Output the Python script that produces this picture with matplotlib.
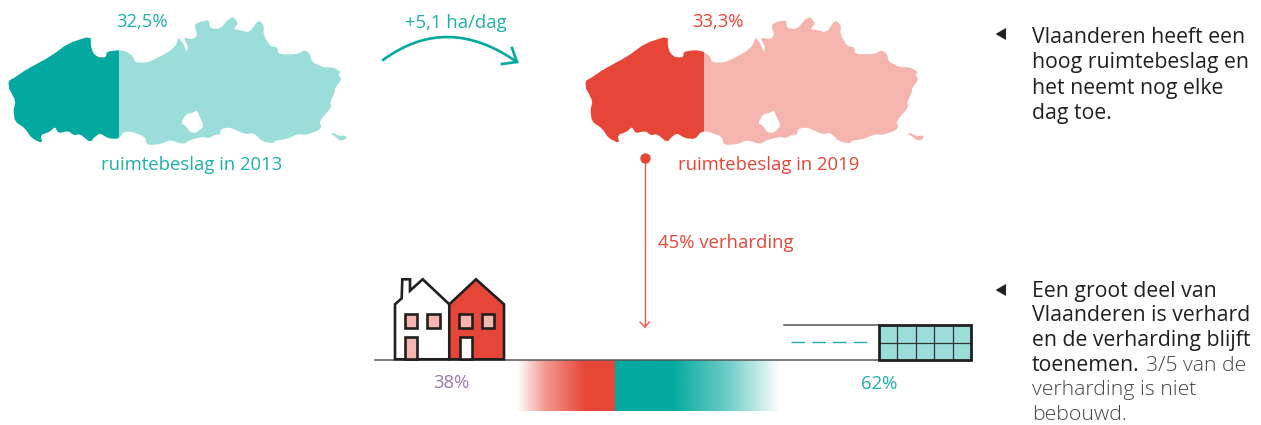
import numpy as np
import matplotlib
matplotlib.use('Agg')
import matplotlib.pyplot as plt
from matplotlib.colors import to_rgb
from matplotlib.patches import Polygon, Rectangle, PathPatch
from matplotlib.path import Path

plt.rcParams['font.family'] = ['Open Sans', 'DejaVu Sans']

# waarden
jaren = [2013, 2019]
ruimtebeslag = [32.5, 33.3]
toename = '+5,1'
verharding = 45
bebouwd = 38
niet_bebouwd = 62

TEAL = '#03a99f'
TEAL_L = '#9bded9'
TEAL_T = '#1fb0a8'
RED = '#e64637'
RED_L = '#f5b4ad'
DARK = '#231f20'

# omtrek van Vlaanderen, in pixels van de kaart links
kaart = np.array([
    (90.7,36),(68.3,43.3),(50,56.7),(26.7,69.3),(15,77.3),(8.3,81),(9.3,90),(10,90),(15.7,101.7),(13.3,110),
    (15,121.7),(25,128.3),(31.7,138.3),(42.3,143.3),(40.7,135),(50,131.7),(55,126.7),(58.3,133.3),(68.3,131),(74,135.3),
    (80,134),(90,142.3),(95,136.7),(100,133.3),(108.3,138.3),(118.3,139),(124,131.7),(131.7,131.7),(145,136.7),(146.7,145),
    (160,144.3),(170,140),(183.3,144.3),(190,140),(203.3,136.7),(208.3,138.3),(216,134.3),(220,135),(220.7,129),(230,127.3),
    (239.3,131.7),(246.7,134.3),(253.3,132.7),(262.7,141.7),(273.3,143.3),(275,140.7),(286.7,139),(298.3,134),(305,135),(318.3,130.7),
    (321.7,126.7),(319,121.7),(331.7,106.7),(330,102.7),(335,91.7),(335,88.3),(341.7,79.3),(338.3,75),(340.7,71.7),(333.3,67.3),
    (323.3,67.3),(311.7,61.7),(310,54),(305,50),(296.7,54.3),(278.3,54.3),(277.3,47.3),(270,46),(263.3,34),(264,25),
    (258.3,20),(249.3,32.7),(240,30),(233.3,29.3),(238.3,23.3),(233.3,16.7),(228.3,19.3),(220,29),(210,28.3),(209.3,20),
    (200,21.7),(194.3,25),(197.3,35),(193.3,39.3),(183.3,37.3),(188.3,47.3),(186.7,52.3),(183.3,43.3),(178.3,37.3),(176,45),
    (170,51),(156.7,58.3),(146.7,62.7),(135,62.3),(133.3,56.7),(126.7,51.7),(118.7,50),(106.7,51.7),(106,57.3),(98.3,57.3),
    (93.3,53.3),(91,46.7)])
gat = np.array([(196.7,110),(199.3,116),(204,126),(196.7,132.7),(190.7,132.7),(185,125),(181,123.3),(186,114),(193.3,112.7)])
eiland = np.array([(331,134),(333.3,132.7),(338.3,135.7),(346.7,135.7),(346,139.3),(340,140.7),(335.7,136.7)])


def afronden(pts):
    # hoeken van de omtrek wat afsnijden
    volgende = np.roll(pts, -1, axis=0)
    q = 0.8 * pts + 0.2 * volgende
    r = 0.2 * pts + 0.8 * volgende
    return np.column_stack([q, r]).reshape(-1, 2)


def ring(pts):
    pts = afronden(pts)
    return np.vstack([pts, pts[:1]]), [Path.MOVETO] + [Path.LINETO] * (len(pts) - 1) + [Path.CLOSEPOLY]


def teken_kaart(ax, dx, split, donker, licht):
    v1, c1 = ring(kaart)
    v2, c2 = ring(gat)
    v3, c3 = ring(eiland)
    pad = Path(np.vstack([v1, v2, v3]) + [dx, 0], c1 + c2 + c3)
    for kleur, x0, x1 in [(donker, dx, split), (licht, split, dx + 360)]:
        p = PathPatch(pad, fc=kleur, ec='none', zorder=2)
        ax.add_patch(p)
        clip = Rectangle((x0, 0), x1 - x0, 200, transform=ax.transData)
        p.set_clip_path(clip)


def verloop(ax, kleur, x0, x1, xs, alphas):
    x = np.linspace(x0, x1, 300)
    rgba = np.ones((1, 300, 4))
    rgba[..., :3] = to_rgb(kleur)
    rgba[..., 3] = np.interp(x, xs, alphas)
    ax.imshow(rgba, extent=(x0, x1, 411, 360), aspect='auto', zorder=1, interpolation='bilinear')


fig = plt.figure(figsize=(12.61, 4.25), dpi=100)
ax = fig.add_axes([0, 0, 1, 1])

# kaarten
teken_kaart(ax, 0, 118.5, TEAL, TEAL_L)
teken_kaart(ax, 577, 704, RED, RED_L)

fs = 13.3
ax.text(142, 22, f'{ruimtebeslag[0]:.1f}%'.replace('.', ','), color=TEAL_T, fontsize=fs, ha='center', va='center')
ax.text(718, 22, f'{ruimtebeslag[1]:.1f}%'.replace('.', ','), color=RED, fontsize=fs, ha='center', va='center')
ax.text(192, 165.5, f'ruimtebeslag in {jaren[0]}', color=TEAL_T, fontsize=fs, ha='center', va='center')
ax.text(769, 165.5, f'ruimtebeslag in {jaren[1]}', color=RED, fontsize=fs, ha='center', va='center')

# pijl tussen de kaarten
boog = Path([(383, 60), (447, 13), (517, 62)], [Path.MOVETO, Path.CURVE3, Path.CURVE3])
ax.add_patch(PathPatch(boog, fc='none', ec=TEAL, lw=1.9, capstyle='round'))
ax.plot([512, 517, 502], [48, 62, 64], color=TEAL, lw=1.9, solid_joinstyle='miter')
ax.text(456, 22.5, f'{toename} ha/dag', color=TEAL_T, fontsize=fs, ha='center', va='center')

# verharding
ax.plot([645, 645], [158, 327], color='#ee5a4e', lw=1)
ax.plot([645], [158], 'o', color=RED, ms=6.5)
ax.plot([640, 644.7, 649.5], [322, 327, 322], color='#ee5a4e', lw=1)
ax.text(726, 243, f'{verharding}% verharding', color=RED, fontsize=fs, ha='center', va='center')

# balk onderaan
start = 517
breedte = 257
grens = start + breedte * bebouwd / (bebouwd + niet_bebouwd)
verloop(ax, RED, start, grens, [start, 545, 585, grens], [0, 0.55, 1, 1])
verloop(ax, TEAL, grens, 780, [grens, 672, 730, 780], [1, 1, 0.55, 0])
ax.plot([375, 972], [359.7, 359.7], color='#555555', lw=1.1, zorder=3)

ax.text(451, 383, f'{bebouwd}%', color='#9c78b0', fontsize=fs, ha='center', va='center')
ax.text(879, 384, f'{niet_bebouwd}%', color=TEAL_T, fontsize=fs, ha='center', va='center')

# huizen
wit = [(395,359.3),(395,304.3),(401.7,298.3),(402.3,279.3),(410,279.3),(410,290.7),(422.7,279.3),(449.3,304.3),(449.3,359.3)]
rood = [(449.3,359.3),(449.3,304.3),(476,279.3),(504,304.3),(504,359.3)]
ax.add_patch(Polygon(wit, fc='white', ec=DARK, lw=1.9, zorder=4, joinstyle='miter'))
ax.add_patch(Polygon(rood, fc=RED, ec=DARK, lw=1.9, zorder=4, joinstyle='miter'))
for x in [404.7, 427.3, 459.3, 481.7]:
    ax.add_patch(Rectangle((x, 314.3), 12.6, 13.4, fc=RED_L, ec=DARK, lw=1.9, zorder=5))
ax.add_patch(Rectangle((404.7, 337.3), 12.6, 22, fc=RED_L, ec=DARK, lw=1.9, zorder=5))
ax.add_patch(Rectangle((460, 337.3), 11.7, 22, fc='white', ec=DARK, lw=1.9, zorder=5))

# gebouw rechts
ax.plot([784, 879], [325, 325], color='#555555', lw=1.1)
ax.plot([790.7, 866.7], [342, 342], color=TEAL_T, lw=1, dashes=(9.9, 5))
ax.add_patch(Rectangle((879, 325), 92, 35, fc=TEAL_L, ec='none', zorder=4))
for x in np.linspace(879, 971, 6)[1:-1]:
    ax.plot([x, x], [325, 360], color='#333333', lw=0.9, zorder=5)
ax.plot([879, 971], [342.5, 342.5], color='#333333', lw=0.9, zorder=5)
ax.add_patch(Rectangle((879, 325), 92, 35, fc='none', ec=DARK, lw=2, zorder=6))

# tekst rechts
for y in [34, 290]:
    ax.add_patch(Polygon([(1006, y - 6), (1006, y + 6), (995.5, y)], fc=DARK, ec='none'))

fs2 = 15.3
tekst1 = ['Vlaanderen heeft een', 'hoog ruimtebeslag en', 'het neemt nog elke', 'dag toe.']
for y, t in zip([42.5, 68, 93.5, 119], tekst1):
    ax.text(1032, y, t, color=DARK, fontsize=fs2, va='baseline')
tekst2 = ['Een groot deel van', 'Vlaanderen is verhard', 'en de verharding blijft', 'toenemen.']
for y, t in zip([296.5, 321.3, 346, 371], tekst2):
    ax.text(1032, y, t, color=DARK, fontsize=fs2, va='baseline')
ax.text(1146, 371, '3/5 van de', color='#444444', fontsize=fs2, va='baseline', fontweight='light')
for y, t in zip([395.5, 419.8], ['verharding is niet', 'bebouwd.']):
    ax.text(1032, y, t, color='#444444', fontsize=fs2, va='baseline', fontweight='light')

ax.set_xlim(0, 1261)
ax.set_ylim(425, 0)
ax.axis('off')
fig.savefig('out.png', dpi=100)
